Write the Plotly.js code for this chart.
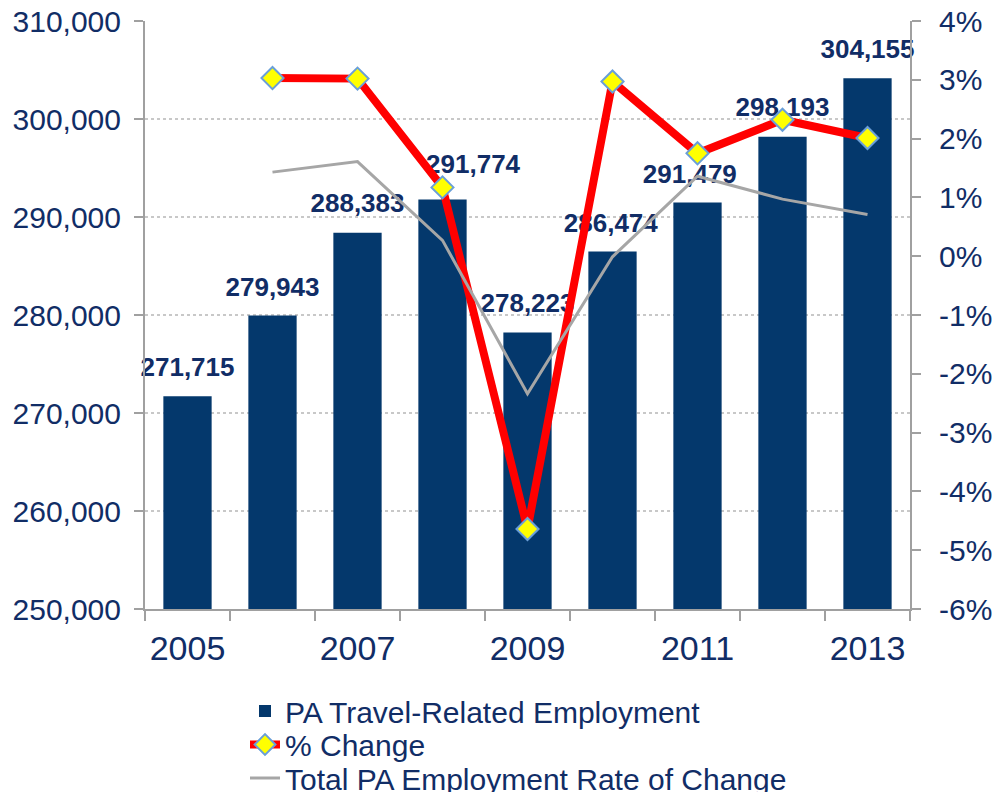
<!DOCTYPE html>
<html>
<head>
<meta charset="utf-8">
<script src="https://cdn.plot.ly/plotly-3.0.1.min.js"></script>
<style>html,body{margin:0;padding:0;background:#fff;}#chart{width:1001px;height:792px;}</style>
</head>
<body>
<div id="chart"></div>
<script>
// ---- data ----
const years = [2005, 2006, 2007, 2008, 2009, 2010, 2011, 2012, 2013];
const employment = [271715, 279943, 288383, 291774, 278223, 286474, 291479, 298193, 304155];
const changeYears = [2006, 2007, 2008, 2009, 2010, 2011, 2012, 2013];
const pctChange = [3.03, 3.02, 1.17, -4.64, 2.97, 1.75, 2.32, 2.01];
const totalPaChange = [1.43, 1.61, 0.27, -2.34, -0.01, 1.36, 0.97, 0.71];
const xTickYears = [2005, 2007, 2009, 2011, 2013];
const leftTicks = [250000, 260000, 270000, 280000, 290000, 300000, 310000];
const rightTicks = [-6, -5, -4, -3, -2, -1, 0, 1, 2, 3, 4];
const rightTickText = ['-6%', '-5%', '-4%', '-3%', '-2%', '-1%', '0%', '1%', '2%', '3%', '4%'];
const seriesNames = ['PA Travel-Related Employment', '% Change', 'Total PA Employment Rate of Change'];

// ---- style ----
const FONT = 'Liberation Sans, Arial, Helvetica, sans-serif';
const NAVY = '#112d66';
const BAR = '#04386c';
const AXIS = '#a0a0a0';
const W = 1001, H = 792;
const M = {l: 145, r: 91, t: 21, b: 183, autoexpand: false};
const yRange = [250000, 310000];
const plotH = H - M.t - M.b;
const unitsPerPx = (yRange[1] - yRange[0]) / plotH;
// label offsets (style): horizontal in category units, vertical in pixels
const labelDx = [0, 0, 0, 0.36, 0, -0.02, -0.09, 0, 0];
const labelDyPx = [26.5, 26.5, 27, 33, 26.5, 26.5, 26.5, 27, 26.5];

const boundaries = years.map(y => y - 0.5).concat([years[years.length - 1] + 0.5]);

const traces = [
  {
    type: 'bar', name: seriesNames[0], x: years, y: employment,
    marker: {color: BAR}, yaxis: 'y', legend: 'legend', hoverinfo: 'x+y'
  },
  {
    type: 'scatter', mode: 'text', showlegend: false, hoverinfo: 'skip',
    x: years.map((y, i) => y + labelDx[i]),
    y: employment.map((v, i) => v + labelDyPx[i] * unitsPerPx),
    text: employment.map(v => v.toLocaleString('en-US')),
    textposition: 'middle center',
    textfont: {family: FONT, size: 26, color: NAVY, weight: 'bold'},
    yaxis: 'y', cliponaxis: false
  },
  {
    type: 'scatter', mode: 'lines+markers', name: seriesNames[1],
    x: changeYears, y: pctChange, yaxis: 'y2', legend: 'legend2',
    line: {color: '#ff0000', width: 8},
    marker: {symbol: 'diamond', size: 17, color: '#ffff00', line: {color: '#6a9fd8', width: 2}}
  },
  {
    type: 'scatter', mode: 'lines', name: seriesNames[2],
    x: changeYears, y: totalPaChange, yaxis: 'y2', legend: 'legend3',
    line: {color: '#a6a6a6', width: 3}
  }
];

const legendBase = {
  xref: 'container', yref: 'container', xanchor: 'left', yanchor: 'middle',
  x: 245 / W, bgcolor: 'rgba(0,0,0,0)',
  font: {family: FONT, size: 30, color: NAVY}
};

const layout = {
  width: W, height: H,
  margin: M,
  paper_bgcolor: '#ffffff', plot_bgcolor: '#ffffff',
  font: {family: FONT, color: NAVY},
  bargap: 0.432,
  showlegend: true,
  legend: Object.assign({}, legendBase, {y: 1 - 711 / H}),
  legend2: Object.assign({}, legendBase, {y: 1 - 744.5 / H}),
  legend3: Object.assign({}, legendBase, {y: 1 - 778 / H}),
  xaxis: {
    type: 'linear', range: [boundaries[0], boundaries[boundaries.length - 1]],
    tickmode: 'array', tickvals: xTickYears, ticktext: xTickYears.map(String),
    ticks: '', showgrid: false, zeroline: false, tickangle: 0,
    showline: true, linecolor: AXIS, linewidth: 2,
    tickfont: {family: FONT, size: 34, color: NAVY},
    ticklabelstandoff: 8,
    minor: {tickmode: 'array', tickvals: boundaries, ticks: 'outside', ticklen: 10, tickwidth: 2, tickcolor: AXIS, showgrid: false}
  },
  yaxis: {
    range: yRange, tickmode: 'array', tickvals: leftTicks, tickformat: ',d',
    ticks: 'outside', ticklen: 9, tickwidth: 2, tickcolor: AXIS,
    showline: true, linecolor: AXIS, linewidth: 2,
    showgrid: true, gridcolor: '#c8c8c8', griddash: 'dot', gridwidth: 2,
    zeroline: false,
    tickfont: {family: FONT, size: 30, color: NAVY},
    ticklabelstandoff: 7
  },
  yaxis2: {
    overlaying: 'y', side: 'right', range: [-6, 4],
    tickmode: 'array', tickvals: rightTicks, ticktext: rightTickText,
    ticks: 'outside', ticklen: 9, tickwidth: 2, tickcolor: AXIS,
    showline: true, linecolor: AXIS, linewidth: 2,
    showgrid: false, zeroline: false,
    tickfont: {family: FONT, size: 30, color: NAVY},
    ticklabelstandoff: 12
  }
};

Plotly.newPlot('chart', traces, layout, {displayModeBar: false, staticPlot: true});
</script>
</body>
</html>
